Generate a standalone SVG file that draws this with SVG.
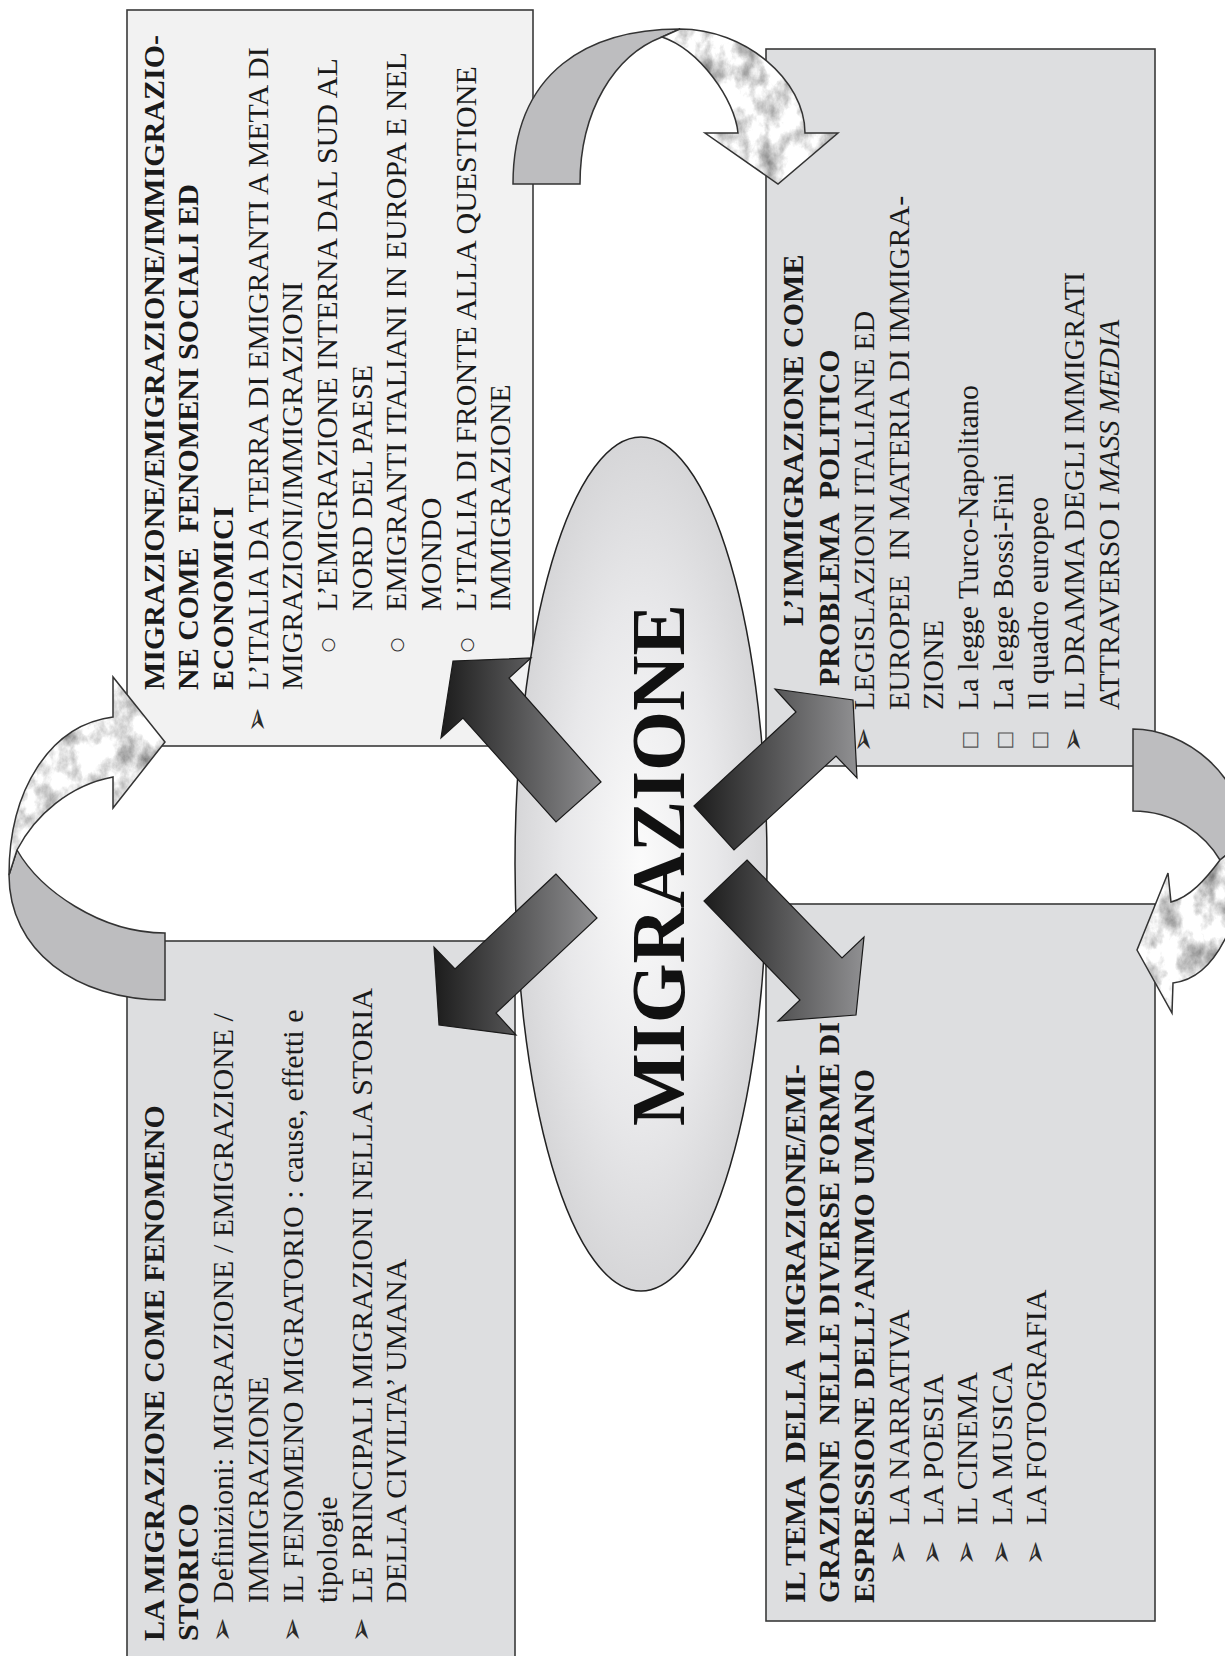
<svg xmlns="http://www.w3.org/2000/svg" width="1225" height="1656" viewBox="0 0 1225 1656">
<style>
.box{stroke:#3a3a3a;stroke-width:1.6}
.b1{fill:#f2f2f2}
.b2{fill:#dddee0}
.t{font-family:"Liberation Serif","Times New Roman",serif;font-size:30px;fill:#1a1a1a;white-space:pre}
.bd{font-weight:bold}
.it{font-style:italic}
.bul{font-family:"DejaVu Sans",sans-serif;font-size:30px;fill:#2a2a2a;text-anchor:middle}
.sq{font-family:"DejaVu Sans",sans-serif;font-size:20px;fill:#555;text-anchor:middle}
.ci{font-family:"DejaVu Sans",sans-serif;font-size:17px;fill:#333;text-anchor:middle}
.dark{fill:url(#dg);stroke:#1a1a1a;stroke-width:1.2}
.grey{fill:#bdbdbf;stroke:#333;stroke-width:1.5}
.marble{fill:#fff;filter:url(#marb)}
.edge{fill:none;stroke:#333;stroke-width:1.5}
</style>
<defs>
<linearGradient id="dg" x1="0" y1="0" x2="1" y2="0">
<stop offset="0" stop-color="#1c1c1c"/>
<stop offset="1" stop-color="#909092"/>
</linearGradient>
<radialGradient id="eg" cx="0.5" cy="0.5" r="0.5">
<stop offset="0" stop-color="#fbfbfb"/>
<stop offset="0.6" stop-color="#e8e8ea"/>
<stop offset="1" stop-color="#d6d6d8"/>
</radialGradient>
<filter id="marb" x="0" y="0" width="1" height="1" color-interpolation-filters="sRGB">
<feTurbulence type="fractalNoise" baseFrequency="0.05 0.035" numOctaves="5" seed="11" result="n"/>
<feColorMatrix in="n" type="matrix" values="1.0 0 0 0 0.4  1.0 0 0 0 0.4  1.0 0 0 0 0.4  0 0 0 0 1" result="c"/>
<feComposite in="c" in2="SourceGraphic" operator="in"/>
</filter>
</defs>

<g id="node-socioeconomici">
<rect class="box b1" x="127" y="10" width="406" height="736"/>
<g transform="rotate(-90)">
<text class="t bd" x="-690" y="164">MIGRAZIONE/EMIGRAZIONE/IMMIGRAZIO-</text>
<text class="t bd" x="-690" y="198">NE COME  FENOMENI SOCIALI ED</text>
<text class="t bd" x="-690" y="233">ECONOMICI</text>
<text class="bul" x="-720" y="267">➢</text>
<text class="t" x="-690" y="268">L’ITALIA DA TERRA DI EMIGRANTI A META DI</text>
<text class="t" x="-690" y="302">MIGRAZIONI/IMMIGRAZIONI</text>
<text class="ci" x="-645" y="333">○</text>
<text class="t" x="-611" y="337">L’EMIGRAZIONE INTERNA DAL SUD AL</text>
<text class="t" x="-611" y="372">NORD DEL PAESE</text>
<text class="ci" x="-645" y="402">○</text>
<text class="t" x="-611" y="406">EMIGRANTI ITALIANI IN EUROPA E NEL</text>
<text class="t" x="-611" y="441">MONDO</text>
<text class="ci" x="-645" y="472">○</text>
<text class="t" x="-611" y="476">L’ITALIA DI FRONTE ALLA QUESTIONE</text>
<text class="t" x="-611" y="510">IMMIGRAZIONE</text>
</g>
</g>

<g id="node-politico">
<rect class="box b2" x="766" y="49" width="389" height="717"/>
<g transform="rotate(-90)">
<text class="t bd" x="-626" y="803">L’IMMIGRAZIONE COME</text>
<text class="t bd" x="-686" y="839">PROBLEMA  POLITICO</text>
<text class="bul" x="-740" y="873">➢</text>
<text class="t" x="-710" y="874">LEGISLAZIONI ITALIANE ED</text>
<text class="t" x="-710" y="909">EUROPEE  IN MATERIA DI IMMIGRA-</text>
<text class="t" x="-710" y="943">ZIONE</text>
<text class="sq" x="-740" y="976">□</text>
<text class="t" x="-710" y="978">La legge Turco-Napolitano</text>
<text class="sq" x="-740" y="1011">□</text>
<text class="t" x="-710" y="1013">La legge Bossi-Fini</text>
<text class="sq" x="-740" y="1046">□</text>
<text class="t" x="-710" y="1048">Il quadro europeo</text>
<text class="bul" x="-740" y="1083">➢</text>
<text class="t" x="-710" y="1084">IL DRAMMA DEGLI IMMIGRATI</text>
<text class="t" x="-710" y="1119">ATTRAVERSO I <tspan class="it">MASS MEDIA</tspan></text>
</g>
</g>

<g id="node-storico">
<rect class="box b2" x="127" y="941" width="388" height="730"/>
<g transform="rotate(-90)">
<text class="t bd" x="-1641" y="164">LA MIGRAZIONE COME FENOMENO</text>
<text class="t bd" x="-1641" y="198">STORICO</text>
<text class="bul" x="-1630" y="232">➢</text>
<text class="t" x="-1603" y="233">Definizioni: MIGRAZIONE / EMIGRAZIONE /</text>
<text class="t" x="-1603" y="268">IMMIGRAZIONE</text>
<text class="bul" x="-1630" y="302">➢</text>
<text class="t" x="-1603" y="303">IL FENOMENO MIGRATORIO : cause, effetti e</text>
<text class="t" x="-1603" y="337">tipologie</text>
<text class="bul" x="-1630" y="371">➢</text>
<text class="t" x="-1603" y="372">LE PRINCIPALI MIGRAZIONI NELLA STORIA</text>
<text class="t" x="-1603" y="406">DELLA CIVILTA’ UMANA</text>
</g>
</g>

<g id="node-espressione">
<rect class="box b2" x="766" y="904" width="389" height="717"/>
<g transform="rotate(-90)">
<text class="t bd" x="-1603" y="805">IL TEMA  DELLA  MIGRAZIONE/EMI-</text>
<text class="t bd" x="-1603" y="839">GRAZIONE  NELLE DIVERSE FORME DI</text>
<text class="t bd" x="-1603" y="874">ESPRESSIONE DELL’ANIMO UMANO</text>
<text class="bul" x="-1553" y="908">➢</text>
<text class="t" x="-1525" y="909">LA NARRATIVA</text>
<text class="bul" x="-1553" y="942">➢</text>
<text class="t" x="-1525" y="943">LA POESIA</text>
<text class="bul" x="-1553" y="976">➢</text>
<text class="t" x="-1525" y="977">IL CINEMA</text>
<text class="bul" x="-1553" y="1011">➢</text>
<text class="t" x="-1525" y="1012">LA MUSICA</text>
<text class="bul" x="-1553" y="1045">➢</text>
<text class="t" x="-1525" y="1046">LA FOTOGRAFIA</text>
</g>
</g>

<g id="node-migrazione">
<ellipse cx="641" cy="864" rx="126" ry="427" fill="url(#eg)" stroke="#222" stroke-width="1.5"/>
<text class="t bd" transform="rotate(-90)" x="-865" y="684" style="font-size:77px;text-anchor:middle;fill:#111">MIGRAZIONE</text>
</g>

<g id="connectors">
<polygon class="dark" points="601,782 509,678 531,658 453,661 441,738 463,718 556,822"/>
<polygon class="dark" points="556,874 455,969 434,947 439,1025 516,1035 496,1013 597,918"/>
<polygon class="dark" points="694,806 796,712 775,689 853,700 857,778 836,756 734,850"/>
<polygon class="dark" points="747,860 842,958 864,937 856,1015 778,1021 800,1000 704,901"/>

<g id="loop-top">
<path class="grey" d="M513,184 C513,70 590,29 680,29 L662,37 C615,55 580,110 580,184 Z"/>
<path class="marble" d="M662,37 L680,29 C745,29 805,80 805,133 L838,133 L778,184 L705,133 L738,133 C735,100 700,50 662,37 Z"/>
<path class="edge" d="M662,37 L680,29 C745,29 805,80 805,133 L838,133 L778,184 L705,133 L738,133 C735,100 700,50 662,37 Z"/>
</g>
<g id="loop-left">
<path class="grey" d="M165,1000 C75,1000 9,950 9,875 L17,850 C40,890 100,933 165,933 Z"/>
<path class="marble" d="M9,875 C9,790 50,725 113,717 L113,677 L165,742 L113,808 L113,777 C70,785 35,815 17,850 Z"/>
<path class="edge" d="M9,875 C9,790 50,725 113,717 L113,677 L165,742 L113,808 L113,777 C70,785 35,815 17,850 Z"/>
</g>
<g id="loop-right">
<path class="grey" d="M1133,729 C1185,729 1245,775 1245,840 L1220,860 C1205,835 1175,811 1133,811 Z"/>
<path class="marble" d="M1245,840 C1245,920 1215,978 1173,983 L1172,1013 L1137,950 L1168,873 L1171,902 C1190,897 1205,880 1220,860 Z"/>
<path class="edge" d="M1245,840 C1245,920 1215,978 1173,983 L1172,1013 L1137,950 L1168,873 L1171,902 C1190,897 1205,880 1220,860 Z"/>
</g>
</g>
</svg>
